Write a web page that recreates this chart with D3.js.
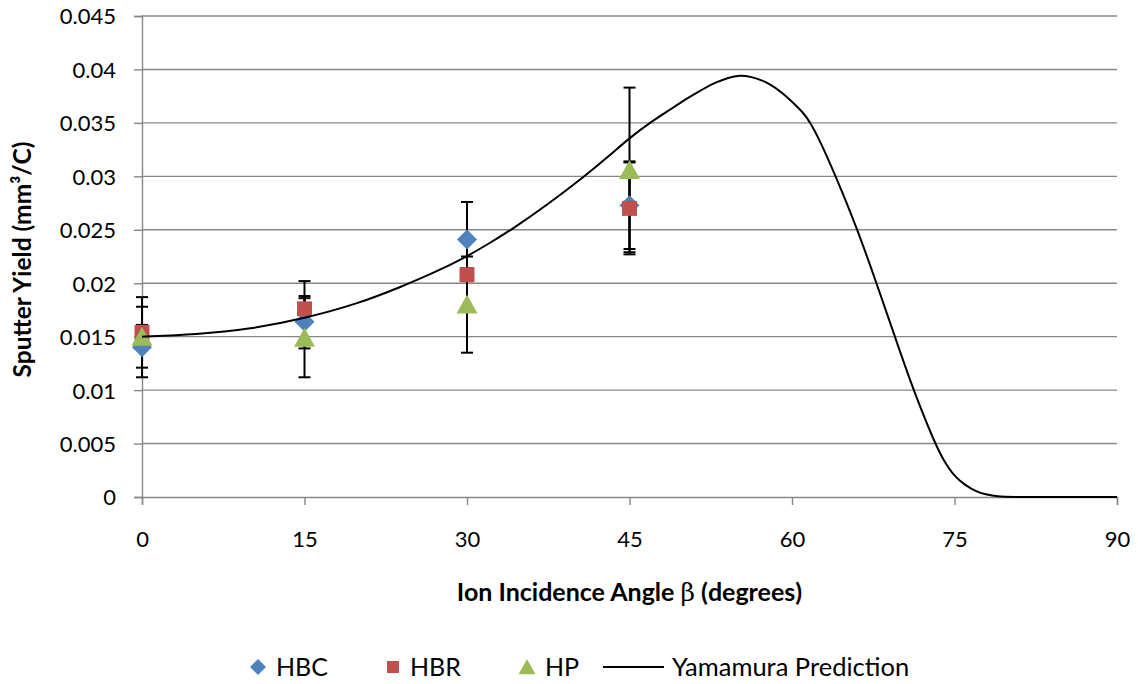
<!DOCTYPE html>
<html>
<head>
<meta charset="utf-8">
<script src="https://cdn.jsdelivr.net/npm/d3@7/dist/d3.min.js"></script>
<style>
  html, body { margin: 0; padding: 0; background: #fff; }
  svg { display: block; }
  text { font-family: Lato, "Open Sans", "Liberation Sans", sans-serif; fill: #000; }
</style>
</head>
<body>
<svg id="chart" width="1138" height="684"></svg>
<script>
// Measured sputter yield at each incidence angle (mm^3/C)
const angles = [0, 15, 30, 45];

const hbcValues = [0.0140, 0.0164, 0.0241, 0.0273];
const hbcErrHi  = [0.0038, 0.0024, 0.0035, 0.0041];
const hbcErrLo  = [0.0019, 0.0025, 0.0035, 0.0041];

const hbrValues = [0.0154, 0.0176, 0.0208, 0.0270];
const hbrErrHi  = [0.0007, 0.0026, 0.0006, 0.0043];
const hbrErrLo  = [0.0007, 0.0005, 0.0006, 0.0043];

const hpValues  = [0.0150, 0.0149, 0.0180, 0.0306];
const hpErrHi   = [0.0037, 0.0037, 0.0045, 0.0077];
const hpErrLo   = [0.0038, 0.0037, 0.0045, 0.0077];

// Yamamura prediction curve
const yamAngles = [0, 5, 10, 15, 20, 24, 27, 30, 32, 34.1, 37.5, 40.85, 43, 45, 47, 49, 50, 51, 52, 53, 54, 55.2,
                   56.3, 57.2, 58, 59, 60, 61, 61.66, 62.6, 64, 66.06, 67.8, 69.5, 71.2, 73.2, 74, 75, 76, 77, 78, 79, 80, 85, 90];
const yamValues = [0.0150, 0.0152, 0.0157, 0.0167, 0.0181, 0.0197, 0.0210, 0.0225, 0.0237, 0.0250, 0.0274, 0.0300, 0.0318, 0.0336, 0.0351, 0.0364, 0.0371, 0.0377, 0.0383, 0.0388, 0.0392, 0.0395,
                   0.0393, 0.0390, 0.0386, 0.0379, 0.0370, 0.0360, 0.0351, 0.0333, 0.0301, 0.0250, 0.0200, 0.0150, 0.0100, 0.0050, 0.0034, 0.0019, 0.0011, 0.0005, 0.0002, 0.00005, 0.0, 0.0, 0.0];

const xTicks = [0, 15, 30, 45, 60, 75, 90];
const yTicks = [0, 0.005, 0.01, 0.015, 0.02, 0.025, 0.03, 0.035, 0.04, 0.045];
const yTickLabels = ["0", "0.005", "0.01", "0.015", "0.02", "0.025", "0.03", "0.035", "0.04", "0.045"];

const series = [
  { name: "HBC", color: "#4F81BD", shape: "diamond", values: hbcValues, hi: hbcErrHi, lo: hbcErrLo },
  { name: "HBR", color: "#C0504D", shape: "square",  values: hbrValues, hi: hbrErrHi, lo: hbrErrLo },
  { name: "HP",  color: "#9BBB59", shape: "triangle", values: hpValues, hi: hpErrHi, lo: hpErrLo }
];

const svg = d3.select("#chart");
const plot = { left: 142, right: 1117, top: 16, bottom: 497 };

const x = d3.scaleLinear().domain([0, 90]).range([plot.left, plot.right]);
const y = d3.scaleLinear().domain([0, 0.045]).range([plot.bottom, plot.top]);

const gridColor = "#878787";

// Horizontal gridlines
svg.append("g")
  .selectAll("line")
  .data(yTicks.filter(d => d > 0))
  .join("line")
  .attr("x1", plot.left).attr("x2", plot.right)
  .attr("y1", d => y(d)).attr("y2", d => y(d))
  .attr("stroke", gridColor).attr("stroke-width", 1.4);

// Y axis
const yAxis = svg.append("g")
  .attr("transform", `translate(${plot.left},0)`)
  .call(d3.axisLeft(y).tickValues(yTicks).tickSize(8).tickPadding(18)
    .tickFormat((d, i) => yTickLabels[i]));
yAxis.select(".domain").attr("stroke", gridColor).attr("stroke-width", 1.4);
yAxis.selectAll(".tick line").attr("stroke", gridColor).attr("stroke-width", 1.4);
yAxis.selectAll(".tick text").style("font-size", "22px").style("font-family", "Lato, sans-serif").attr("dy", "0.36em");

// X axis
const xAxis = svg.append("g")
  .attr("transform", `translate(0,${plot.bottom})`)
  .call(d3.axisBottom(x).tickValues(xTicks).tickSize(8).tickPadding(26));
xAxis.select(".domain").attr("stroke", gridColor).attr("stroke-width", 1.4);
xAxis.selectAll(".tick line").attr("stroke", gridColor).attr("stroke-width", 1.4);
xAxis.selectAll(".tick text").style("font-size", "22px").style("font-family", "Lato, sans-serif");

// Axis titles
svg.append("text")
  .attr("x", (plot.left + plot.right) / 2)
  .attr("y", 601)
  .attr("text-anchor", "middle")
  .style("font-size", "25px").style("font-weight", "bold")
  .call(t => {
    t.append("tspan").text("Ion Incidence Angle ");
    t.append("tspan").style("font-family", "'DejaVu Serif', serif").style("font-weight", "normal").text("β");
    t.append("tspan").text(" (degrees)");
  });

svg.append("text")
  .attr("transform", `translate(31,${(plot.top + plot.bottom) / 2 + 3}) rotate(-90)`)
  .attr("text-anchor", "middle")
  .style("font-size", "24.5px").style("font-weight", "bold")
  .text("Sputter Yield (mm³/C)");

// Marker symbols
function symbolPath(shape) {
  if (shape === "diamond") return "M0,-10L10,0L0,10L-10,0Z";
  if (shape === "square") return "M-7.5,-7.5H7.5V7.5H-7.5Z";
  return "M0,-10L10.5,9L-10.5,9Z";
}

// Error bars beneath the markers
const errG = svg.append("g");
series.forEach(s => {
  angles.forEach((a, i) => {
    const cx = x(a);
    const yHi = y(s.values[i] + s.hi[i]);
    const yLo = y(s.values[i] - s.lo[i]);
    errG.append("line").attr("x1", cx).attr("x2", cx).attr("y1", yHi).attr("y2", yLo)
      .attr("stroke", "#000").attr("stroke-width", 2);
    [yHi, yLo].forEach(yy => {
      errG.append("line").attr("x1", cx - 6).attr("x2", cx + 6).attr("y1", yy).attr("y2", yy)
        .attr("stroke", "#000").attr("stroke-width", 2);
    });
  });
});

// Data markers
series.forEach(s => {
  svg.append("g")
    .selectAll("path")
    .data(angles.map((a, i) => ({ a, v: s.values[i] })))
    .join("path")
    .attr("d", symbolPath(s.shape))
    .attr("transform", d => `translate(${x(d.a)},${y(d.v)})`)
    .attr("fill", s.color);
});

// Prediction curve (smoothed through the tabulated points)
const line = d3.line()
  .x(d => x(d[0]))
  .y(d => y(d[1]))
  .curve(d3.curveBasis);
svg.append("path")
  .datum(yamAngles.map((a, i) => [a, yamValues[i]]))
  .attr("d", line)
  .attr("fill", "none")
  .attr("stroke", "#000")
  .attr("stroke-width", 2)
  .attr("stroke-linejoin", "round");

// Legend
const legendY = 667;
const legend = svg.append("g");
const legendItems = [
  { shape: "diamond", color: "#4F81BD", label: "HBC", mx: 258, tx: 276 },
  { shape: "square",  color: "#C0504D", label: "HBR", mx: 393, tx: 410 },
  { shape: "triangle", color: "#9BBB59", label: "HP", mx: 527, tx: 545 }
];
legendItems.forEach(item => {
  legend.append("path")
    .attr("d", symbolPath(item.shape))
    .attr("transform", `translate(${item.mx},${legendY}) scale(0.8)`)
    .attr("fill", item.color);
  legend.append("text")
    .attr("x", item.tx).attr("y", legendY).attr("dy", "0.35em")
    .style("font-size", "25px")
    .text(item.label);
});
legend.append("line")
  .attr("x1", 603).attr("x2", 664).attr("y1", legendY).attr("y2", legendY)
  .attr("stroke", "#000").attr("stroke-width", 2);
legend.append("text")
  .attr("x", 672).attr("y", legendY).attr("dy", "0.35em")
  .style("font-size", "25.5px")
  .text("Yamamura Prediction");
</script>
</body>
</html>
